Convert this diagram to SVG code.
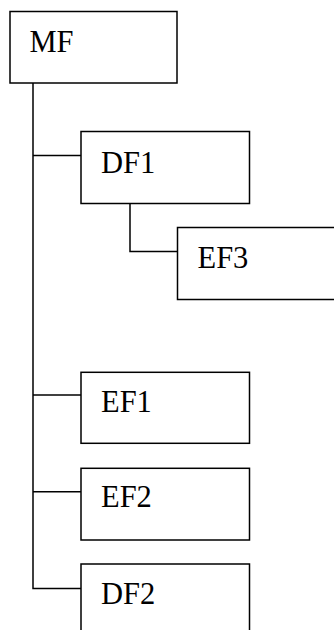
<svg xmlns="http://www.w3.org/2000/svg" width="334" height="630" viewBox="0 0 334 630">
<style>
.box{fill:#fff;stroke:#000;stroke-width:1.5}
.lbl{font-family:"Liberation Serif","Times New Roman",serif;font-size:30.5px;fill:#000}
.con{fill:none;stroke:#000;stroke-width:1.5}
</style>
<rect width="334" height="630" fill="#fff"/>
<g id="connectors">
<path class="con" d="M33,83 V588.5 H81"/>
<path class="con" d="M33,155.5 H81"/>
<path class="con" d="M33,395 H81"/>
<path class="con" d="M33,491.7 H81"/>
<path class="con" d="M130,203.5 V251.5 H177.5"/>
</g>
<g id="MF"><rect class="box" x="10" y="11.5" width="167" height="71.5"/><text class="lbl" x="29.5" y="52">MF</text></g>
<g id="DF1"><rect class="box" x="81" y="131.5" width="168.5" height="72"/><text class="lbl" x="101" y="173">DF1</text></g>
<g id="EF3"><rect class="box" x="177.5" y="227.5" width="170" height="72"/><text class="lbl" x="197.5" y="268">EF3</text></g>
<g id="EF1"><rect class="box" x="81" y="372.3" width="168.5" height="71"/><text class="lbl" x="101" y="411.7">EF1</text></g>
<g id="EF2"><rect class="box" x="81" y="468.3" width="168.5" height="71.7"/><text class="lbl" x="101" y="506.7">EF2</text></g>
<g id="DF2"><rect class="box" x="81" y="564" width="168.5" height="72"/><text class="lbl" x="101" y="603.5">DF2</text></g>
</svg>
